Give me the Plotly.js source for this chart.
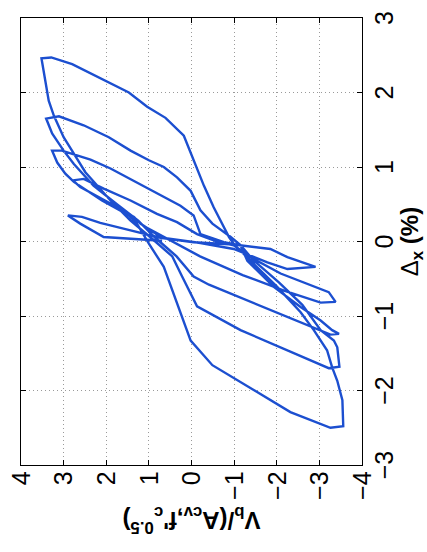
<!DOCTYPE html>
<html>
<head>
<meta charset="utf-8">
<script src="https://cdn.plot.ly/plotly-3.0.1.min.js"></script>
<style>
  html, body { margin: 0; padding: 0; background: #fff; overflow: hidden; }
  #wrap { position: relative; width: 427px; height: 552px; overflow: hidden; }
  #chart { position: absolute; left: 0; top: 0; width: 552px; height: 427px;
           transform-origin: 0 0; transform: translateY(552px) rotate(-90deg); }
</style>
</head>
<body>
<div id="wrap"><div id="chart"></div></div>
<script>
// Cycle 1 (~0.35 % drift)
const drift1 = [0.01, 0.06, 0.24, 0.35, 0.33, 0.25, 0.15, 0.05, -0.01, -0.04, -0.10, -0.21, -0.34, -0.37, -0.28, -0.10, -0.02];
const vb1    = [0.69, 2.06, 2.61, 2.90, 2.57, 2.14, 1.43, 0.73, -0.05, -0.99, -1.85, -2.25, -2.91, -2.25, -1.78, -0.99, -0.21];
// Cycle 2 (~0.8 % drift)
const drift2 = [0.05, 0.24, 0.33, 0.46, 0.60, 0.73, 0.82, 0.84, 0.71, 0.55, 0.37, 0.26, 0.10, 0.00, -0.05, -0.21, -0.43, -0.61, -0.68, -0.81, -0.82, -0.66, -0.45, -0.20];
const vb2    = [0.69, 1.20, 1.35, 1.74, 2.21, 2.61, 2.78, 2.53, 2.06, 1.43, 0.81, 0.34, -0.13, -0.60, -0.99, -1.38, -2.09, -2.87, -3.22, -3.38, -3.03, -2.17, -1.20, -0.20];
// Cycle 3 (~1.2 % drift)
const drift3 = [0.05, 0.20, 0.33, 0.55, 0.80, 0.91, 1.06, 1.22, 1.22, 1.10, 0.98, 0.77, 0.62, 0.48, 0.35, 0.10, -0.01, -0.05, -0.26, -0.61, -0.88, -1.06, -1.19, -1.24, -1.25, -0.58, -0.47];
const vb3    = [0.60, 1.10, 1.40, 2.10, 2.76, 2.96, 3.15, 3.27, 3.04, 2.37, 1.90, 1.20, 0.73, 0.26, -0.05, -0.21, -0.76, -1.15, -1.31, -1.93, -2.56, -3.03, -3.30, -3.46, -3.26, -0.41, -0.05];
// Cycle 4 (~1.65 % drift)
const drift4 = [-0.20, 0.05, 0.28, 0.50, 0.75, 1.04, 1.22, 1.45, 1.65, 1.68, 1.56, 1.40, 1.22, 1.09, 1.00, 0.86, 0.68, 0.42, 0.24, 0.06, -0.05, -0.25, -0.55, -0.85, -1.19, -1.33, -1.42, -1.68, -1.70, -1.19, -0.87, -0.47];
const vb4    = [0.35, 0.85, 1.25, 1.75, 2.30, 2.76, 3.00, 3.27, 3.41, 3.11, 2.53, 1.94, 1.43, 1.00, 0.65, 0.34, 0.02, -0.21, -0.49, -0.92, -1.15, -1.45, -2.05, -2.60, -3.03, -3.34, -3.42, -3.47, -3.22, -1.15, -0.13, 0.22];
// Cycle 5 (~2.45 % drift)
const drift5 = [-0.20, 0.05, 0.28, 0.55, 0.77, 0.93, 1.18, 1.40, 1.69, 1.89, 2.46, 2.47, 2.38, 2.15, 2.00, 1.81, 1.66, 1.42, 1.20, 0.75, 0.46, 0.06, -0.04, -0.30, -0.61, -0.95, -1.19, -1.46, -1.69, -1.87, -2.13, -2.48, -2.50, -2.29, -1.66, -1.33, -0.96, -0.67, -0.34, -0.03, 0.24, 0.42];
const vb5    = [0.45, 0.95, 1.43, 1.90, 2.25, 2.49, 2.76, 3.00, 3.23, 3.35, 3.52, 3.29, 2.80, 1.98, 1.47, 1.04, 0.61, 0.18, 0.02, -0.29, -0.52, -0.88, -1.00, -1.46, -2.01, -2.56, -2.87, -3.18, -3.30, -3.42, -3.54, -3.56, -3.26, -2.32, -0.49, 0.02, 0.26, 0.45, 0.65, 1.00, 1.28, 1.59];

const driftTicks = [-3, -2, -1, 0, 1, 2, 3];
const vbTicks = [-4, -3, -2, -1, 0, 1, 2, 3, 4];

const x = [].concat(drift1, drift2, drift3, drift4, drift5);
const y = [].concat(vb1, vb2, vb3, vb4, vb5);

const font = 'Liberation Sans, Arial, sans-serif';
const axisCommon = {
  ticks: 'inside', ticklen: 5, tickwidth: 1, tickcolor: '#000',
  showline: true, linecolor: '#000', linewidth: 1.4, mirror: 'ticks',
  showgrid: true, gridcolor: '#9a9a9a', griddash: '1px,3px', gridwidth: 1,
  zeroline: false, tickfont: {family: font, size: 25, color: '#000'}
};

const layout = {
  width: 552, height: 427,
  margin: {l: 87, r: 18, t: 21, b: 65},
  paper_bgcolor: '#fff', plot_bgcolor: '#fff',
  showlegend: false,
  xaxis: Object.assign({}, axisCommon, {
    range: [-3, 3], tickvals: driftTicks,
    title: {text: 'Δ<b><sub>x</sub> (%)</b>', font: {family: font, size: 24, color: '#000'}, standoff: 3}
  }),
  yaxis: Object.assign({}, axisCommon, {
    range: [-4, 4], tickvals: vbTicks,
    title: {text: '<b>V<sub>b</sub>/(A<sub>cv</sub>,f\'<sub>c</sub><sup>0.5</sup>)</b>', font: {family: font, size: 24, color: '#000'}, standoff: 4}
  })
};

Plotly.newPlot('chart', [{
  x: x, y: y, type: 'scatter', mode: 'lines',
  line: {color: '#1c4fd0', width: 2.4}
}], layout, {displayModeBar: false, staticPlot: true});
</script>
</body>
</html>
